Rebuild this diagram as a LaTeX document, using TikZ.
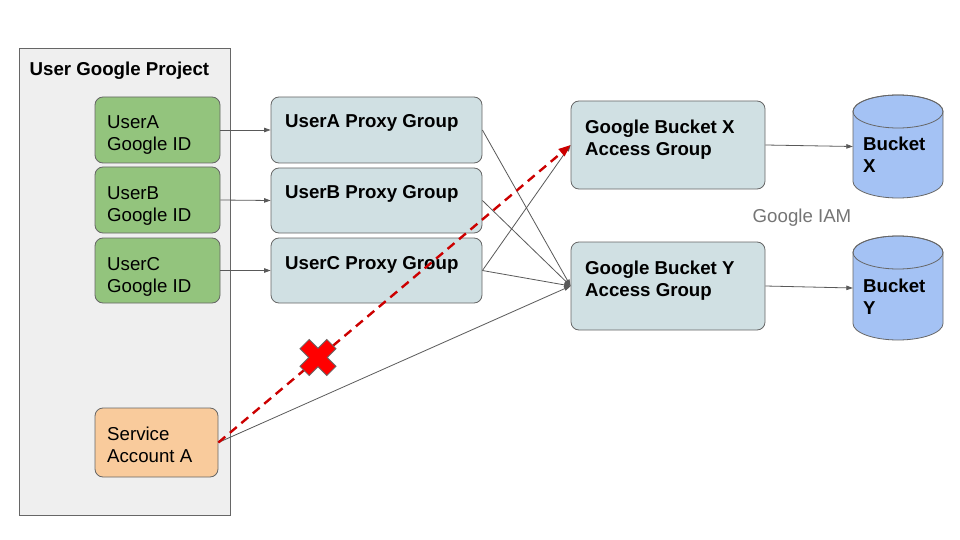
\documentclass[tikz,border=0pt]{standalone}
\usepackage{fontspec}
\setmainfont{Liberation Sans}
\usetikzlibrary{arrows.meta}
\definecolor{bordergray}{HTML}{666666}
\definecolor{linegray}{HTML}{595959}
\definecolor{projfill}{HTML}{EFEFEF}
\definecolor{greenfill}{HTML}{93C47D}
\definecolor{orangefill}{HTML}{F9CB9C}
\definecolor{bluegrayfill}{HTML}{D0E0E3}
\definecolor{bucketfill}{HTML}{A4C2F4}
\definecolor{iamgray}{HTML}{757575}
\definecolor{xred}{HTML}{CC0000}
\definecolor{crossred}{HTML}{FF0000}
\tikzset{
  basebox/.style={draw=bordergray, line width=0.8pt, rounded corners=8pt, inner sep=0pt},
  greenbox/.style={basebox, fill=greenfill},
  orangebox/.style={basebox, fill=orangefill},
  proxybox/.style={basebox, fill=bluegrayfill},
  txt/.style={anchor=base west, inner sep=0pt, align=left},
  garrow/.style={draw=linegray, line width=0.8pt, -{Triangle[length=6.5pt,width=4.5pt]}},
  rarrow/.style={draw=xred, line width=2.4pt, dash pattern=on 9pt off 6pt, -{Triangle[length=12pt,width=9pt]}},
  hidden/.style={inner sep=0pt, draw=none}
}
\begin{document}
\begin{tikzpicture}[x=1pt,y=-1pt, font=\fontsize{18.67}{22}\selectfont]
\useasboundingbox (0,0) rectangle (960,540);
\fill[white] (0,0) rectangle (960,540);

% project container
\node[draw=bordergray, line width=0.8pt, fill=projfill, inner sep=0pt,
      minimum width=211pt, minimum height=467pt] (proj) at (124.5,281.5) {};
\node[txt] (projt) at (29.5,75.5) {\bfseries User Google Project};

% users
\node[greenbox, minimum width=125pt, minimum height=66pt] (ua) at (157.5,130) {};
\node[greenbox, minimum width=125pt, minimum height=66pt] (ub) at (157.5,200) {};
\node[greenbox, minimum width=125pt, minimum height=65pt] (uc) at (157.5,270.5) {};
\node[orangebox, minimum width=123pt, minimum height=69pt] (sa) at (156.5,442.5) {};
\node[txt] (uat) at (107,151) {UserA\\Google ID};
\node[txt] (ubt) at (107,221) {UserB\\Google ID};
\node[txt] (uct) at (107,292) {UserC\\Google ID};
\node[txt] (sat) at (107,462) {Service\\Account A};

% proxy groups
\node[proxybox, minimum width=211pt, minimum height=66pt] (pa) at (376.5,130) {};
\node[proxybox, minimum width=211pt, minimum height=65pt] (pb) at (376.5,200.5) {};
\node[proxybox, minimum width=211pt, minimum height=65pt] (pc) at (376.5,270.5) {};
\node[txt] (pat) at (285,128) {\bfseries UserA Proxy Group};
\node[txt] (pbt) at (285,198) {\bfseries UserB Proxy Group};
\node[txt] (pct) at (285,269) {\bfseries UserC Proxy Group};

% access groups
\node[proxybox, minimum width=194pt, minimum height=88pt] (gx) at (668,145) {};
\node[proxybox, minimum width=194pt, minimum height=88pt] (gy) at (668,286) {};
\node[txt] (gxt) at (585,155.5) {\bfseries Google Bucket X\\\bfseries Access Group};
\node[txt] (gyt) at (585,296) {\bfseries Google Bucket Y\\\bfseries Access Group};

% buckets (cylinders)
\filldraw[fill=bucketfill, draw=bordergray, line width=0.8pt]
  (853,111.5) -- (853,181.5) arc[start angle=180, end angle=360, x radius=45pt, y radius=16.5pt]
  -- (943,111.5) arc[start angle=0, end angle=180, x radius=45pt, y radius=16.5pt] -- cycle;
\draw[bordergray, line width=0.8pt] (898,111.5) ellipse[x radius=45pt, y radius=16.5pt];
\filldraw[fill=bucketfill, draw=bordergray, line width=0.8pt]
  (853,252.5) -- (853,323.5) arc[start angle=180, end angle=360, x radius=45pt, y radius=16.5pt]
  -- (943,252.5) arc[start angle=0, end angle=180, x radius=45pt, y radius=16.5pt] -- cycle;
\draw[bordergray, line width=0.8pt] (898,252.5) ellipse[x radius=45pt, y radius=16.5pt];
\node[hidden, minimum width=90pt, minimum height=103pt] (bx) at (898,146.5) {};
\node[hidden, minimum width=90pt, minimum height=104pt] (by) at (898,288) {};
\node[txt] (bxt) at (863,173) {\bfseries Bucket\\\bfseries X};
\node[txt] (byt) at (863,314) {\bfseries Bucket\\\bfseries Y};

\node[inner sep=0pt, text=iamgray] (iam) at (802,218) {Google IAM};

% connectors
\draw[garrow] (ua.east) -- (pa.west);
\draw[garrow] (ub.east) -- (pb.west);
\draw[garrow] (uc.east) -- (pc.west);
\draw[garrow] (pa.east) -- (gy.west);
\draw[garrow] (pb.east) -- (gy.west);
\draw[garrow] (pc.east) -- (gy.west);
\draw[garrow] (pc.east) -- (gx.west);
\draw[garrow] (sa.east) -- (gy.west);
\draw[garrow] (gx.east) -- (bx.west);
\draw[garrow] (gy.east) -- (by.west);
\draw[rarrow] (sa.east) -- (gx.west);

% red cross
\begin{scope}[shift={(318,357.5)}, rotate=45]
\filldraw[fill=crossred, draw=bordergray, line width=0.8pt]
  (-6.5,-19) -- (6.5,-19) -- (6.5,-6.5) -- (19,-6.5) -- (19,6.5) -- (6.5,6.5) -- (6.5,19) -- (-6.5,19)
  -- (-6.5,6.5) -- (-19,6.5) -- (-19,-6.5) -- (-6.5,-6.5) -- cycle;
\end{scope}
\end{tikzpicture}
\end{document}
